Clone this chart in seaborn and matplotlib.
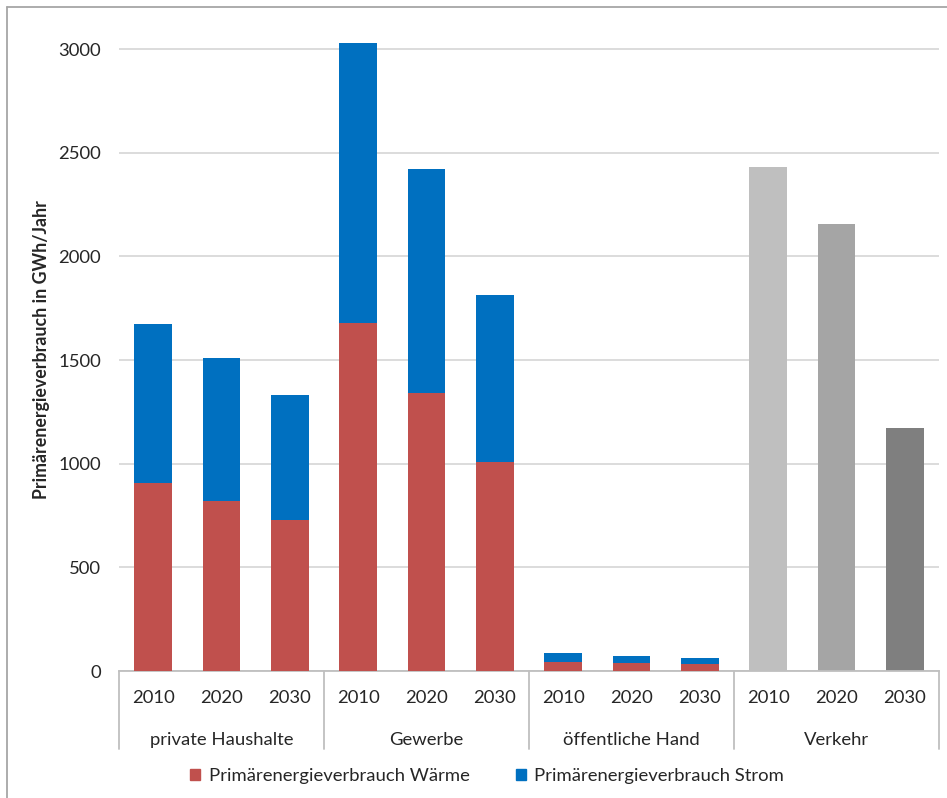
import numpy as np
import pandas as pd
import matplotlib
matplotlib.use("Agg")
import matplotlib.pyplot as plt
import seaborn as sns
from matplotlib.patches import Patch
from matplotlib.lines import Line2D
from matplotlib.transforms import blended_transform_factory

# Primärenergieverbrauch nach Sektor und Jahr (GWh/Jahr)
sectors = ["private Haushalte", "Gewerbe", "öffentliche Hand", "Verkehr"]
years = ["2010", "2020", "2030"]
waerme = [909, 819, 729, 1681, 1341, 1009, 45, 37, 32]
strom = [764, 690, 603, 1348, 1079, 803, 44, 37, 29]
verkehr = [2430, 2155, 1174]
yticks = [0, 500, 1000, 1500, 2000, 2500, 3000]

RED = "#c0504d"
BLUE = "#0070c0"
GREYS = ["#bfbfbf", "#a5a5a5", "#7f7f7f"]
FS = 13.3

sns.set_theme(style="white")
plt.rcParams["font.family"] = ["Lato", "DejaVu Sans"]

keys = [f"{s}|{y}" for s in sectors for y in years]
totals = [w + s for w, s in zip(waerme, strom)] + verkehr
df = pd.DataFrame({"key": keys, "total": totals})
df_w = pd.DataFrame({"key": keys[:9], "waerme": waerme})

palette = {k: BLUE for k in keys[:9]}
palette.update({k: c for k, c in zip(keys[9:], GREYS)})

W, H = 947, 798
fig = plt.figure(figsize=(W / 100, H / 100), dpi=100)
ax = fig.add_axes([119 / W, 1 - 671 / H, (939 - 119) / W, (671 - 20) / H])

bw = 0.555
sns.barplot(data=df, x="key", y="total", hue="key", order=keys, hue_order=keys,
            palette=palette, width=bw, legend=False, ax=ax, saturation=1,
            linewidth=0, zorder=2)
sns.barplot(data=df_w, x="key", y="waerme", order=keys, color=RED, width=bw,
            ax=ax, saturation=1, linewidth=0, zorder=3)

ax.set_xlim(-0.5, 11.5)
ax.set_ylim(0, 3141)
ax.set_yticks(yticks)
ax.set_yticklabels([str(v) for v in yticks], fontsize=FS, color="#262626")
ax.set_xticks(range(12))
ax.set_xticklabels(years * 4, fontsize=FS, color="#262626")
ax.tick_params(axis="both", length=0)
ax.tick_params(axis="y", pad=13)
ax.tick_params(axis="x", pad=13.5)
ax.set_xlabel("")
ax.set_ylabel("")

ax.yaxis.grid(True, color="#d9d9d9", linewidth=1.3, zorder=0)
ax.set_axisbelow(True)
for side in ["left", "right", "top"]:
    ax.spines[side].set_visible(False)
ax.spines["bottom"].set_color("#bfbfbf")
ax.spines["bottom"].set_linewidth(1.3)

# Kategorie-Gruppen unter der Achse
tr = blended_transform_factory(ax.transData, fig.transFigure)
for i, s in enumerate(sectors):
    ax.text(3 * i + 1, 1 - 740 / H, s, transform=tr, ha="center", va="center",
            fontsize=FS, color="#262626")
for xs in [-0.5, 2.5, 5.5, 8.5, 11.5]:
    ax.add_line(Line2D([xs, xs], [1 - 671 / H, 1 - 749 / H], transform=tr,
                       color="#bfbfbf", linewidth=1.3, clip_on=False))

fig.text(42 / W, 1 - 350 / H, "Primärenergieverbrauch in GWh/Jahr", rotation=90,
         ha="center", va="center", fontsize=12.8, fontweight="bold",
         color="#262626")

handles = [Patch(color=RED, label="Primärenergieverbrauch Wärme"),
           Patch(color=BLUE, label="Primärenergieverbrauch Strom")]
fig.legend(handles=handles, loc="center", bbox_to_anchor=(487 / W, 1 - 776 / H),
           ncol=2, frameon=False, fontsize=FS, handlelength=0.55,
           handleheight=0.55, handletextpad=0.45, columnspacing=2.5,
           labelcolor="#262626")

# Rahmen des Diagramms
fig.add_artist(Line2D([7 / W, 7 / W], [0, 1 - 7 / H], transform=fig.transFigure,
                      color="#a6a6a6", linewidth=1.3))
fig.add_artist(Line2D([7 / W, 1], [1 - 7 / H, 1 - 7 / H], transform=fig.transFigure,
                      color="#a6a6a6", linewidth=1.3))

fig.savefig("out.png", dpi=100, facecolor="white")
